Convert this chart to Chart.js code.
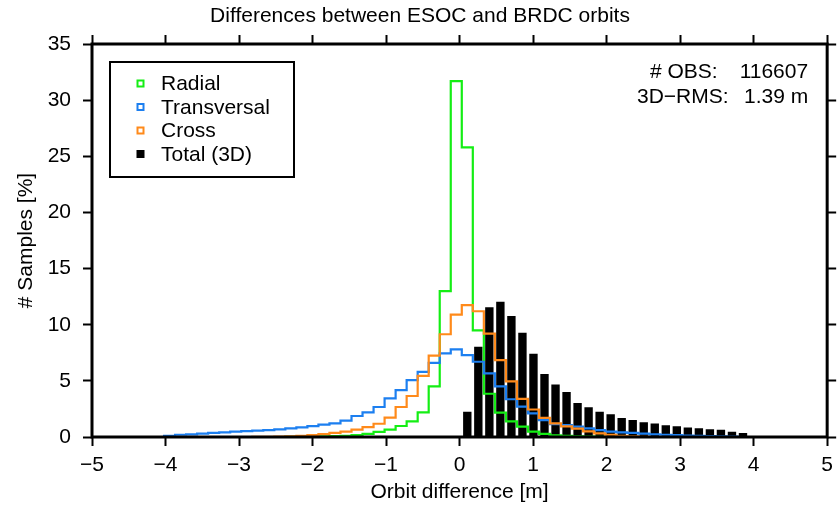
<!DOCTYPE html>
<html><head><meta charset="utf-8">
<script src="https://cdn.jsdelivr.net/npm/chart.js@4/dist/chart.umd.min.js"></script>
<style>html,body{margin:0;padding:0;background:#fff;} canvas{display:block;}</style>
</head><body>
<canvas id="c" width="840" height="505"></canvas>
<script>
const TITLE = 'Differences between ESOC and BRDC orbits';
const X_LABEL = 'Orbit difference [m]';
const Y_LABEL = '# Samples [%]';
const BIN_START = -4.02;   // left edge of first histogram bin [m]
const BIN_WIDTH = 0.15;    // histogram bin width [m]
const xTicks = [-5, -4, -3, -2, -1, 0, 1, 2, 3, 4, 5];
const yTicks = [0, 5, 10, 15, 20, 25, 30, 35];

const seriesNames = ['Radial', 'Transversal', 'Cross', 'Total (3D)'];
const seriesColors = ['#14ee14', '#1c7ff0', '#ff8a1a', '#000000'];

const radial = [0,0,0,0,0,0,0,0,0,0,0,
  0.01,0.02,0.03,0.05,0.07,0.1,0.17,0.28,0.45,0.65,0.98,1.4,2.2,4.5,13.0,31.7,
  25.8,9.5,3.85,2.17,1.4,0.92,0.47,0.27,0.15,0.1,0.06,0.03,0.02,
  0,0,0,0,0,0,0,0,0,0,0,0,0];
const transversal = [0.1,0.2,0.24,0.3,0.36,0.42,0.47,0.53,0.56,0.62,0.68,0.76,0.86,0.96,
  1.1,1.22,1.45,1.87,2.2,2.67,3.44,4.18,5.07,5.8,6.6,7.45,7.8,
  7.3,6.7,5.67,4.5,3.36,2.7,2.1,1.51,1.15,1.07,0.92,0.77,0.62,0.47,0.42,0.36,0.3,0.24,
  0.2,0.16,0.13,0.1,0.07,0.05,0.03,0];
const cross = [0,0,0,0,0,0,0,0,
  0.01,0.02,0.04,0.06,0.1,0.16,0.25,0.36,0.47,0.65,0.88,1.18,1.72,2.67,3.65,5.45,7.25,9.15,10.9,
  11.75,11.2,9.2,6.85,4.95,3.4,2.45,1.7,1.22,0.95,0.75,0.5,0.33,0.2,0.1,0.05,0.02,
  0,0,0,0,0,0,0,0,0];
const total3D = [null,null,null,null,null,null,null,null,null,null,null,null,null,null,
  null,null,null,null,null,null,null,null,null,null,null,null,null,
  2.25,8.04,11.55,12.05,10.77,9.29,7.42,5.61,4.67,4.0,3.03,2.64,2.25,2.03,1.7,1.51,1.32,
  1.2,1.05,0.96,0.85,0.79,0.68,0.64,0.47,0.35];

const statLabels = ['# OBS:', '3D\u2212RMS:'];
const statValues = ['116607', '1.39 m'];

const binEdges = Array.from({length: radial.length + 1}, (_, i) => +(BIN_START + i * BIN_WIDTH).toFixed(3));

function stepPoints(vals) {
  const pts = [{x: binEdges[0], y: 0}];
  vals.forEach((v, i) => pts.push({x: binEdges[i], y: v}));
  const n = vals.length;
  pts.push({x: binEdges[n], y: vals[n - 1]});
  pts.push({x: binEdges[n], y: 0});
  return pts;
}
const barPoints = total3D.map((v, i) => ({x: (binEdges[i] + binEdges[i + 1]) / 2, y: v}));

Chart.defaults.font.family = '"Liberation Sans", Arial, Helvetica, sans-serif';
Chart.defaults.color = '#000';

const FONT = 21;

const lineDs = (label, vals, color, order) => ({
  type: 'line', label, data: stepPoints(vals), borderColor: color, backgroundColor: color,
  borderWidth: 2.2, stepped: true, pointRadius: 0, fill: false, tension: 0, order,
  borderJoinStyle: 'miter'
});

const framePlugin = {
  id: 'frame',
  afterDatasetsDraw(chart) {
    const {ctx, chartArea: a} = chart;
    ctx.save();
    ctx.lineWidth = 3;
    ctx.strokeStyle = '#000';
    ctx.strokeRect(a.left, a.top, a.right - a.left, a.bottom - a.top);
    ctx.restore();
  }
};

const legendPlugin = {
  id: 'boxLegend',
  afterDraw(chart) {
    const {ctx, chartArea: a} = chart;
    const bx = a.left + 18, by = a.top + 18, bw = 184, bh = 115;
    ctx.save();
    ctx.fillStyle = '#fff';
    ctx.fillRect(bx, by, bw, bh);
    ctx.lineWidth = 2;
    ctx.strokeStyle = '#000';
    ctx.strokeRect(bx, by, bw, bh);
    ctx.font = FONT + 'px "Liberation Sans", Arial, sans-serif';
    ctx.textBaseline = 'middle';
    ctx.textAlign = 'left';
    chart.data.datasets.forEach((ds, i) => {
      const y = by + 21.5 + i * 23.5;
      const mx = bx + 27.5, s = 6;
      if (ds.type === 'line') {
        ctx.lineWidth = 2;
        ctx.strokeStyle = ds.borderColor;
        ctx.fillStyle = '#fff';
        ctx.fillRect(mx, y - s / 2, s, s);
        ctx.strokeRect(mx, y - s / 2, s, s);
      } else {
        ctx.fillStyle = ds.backgroundColor;
        ctx.fillRect(mx - 1, y - s / 2 - 1, s + 2, s + 2);
      }
      ctx.fillStyle = '#000';
      ctx.fillText(ds.label, bx + 51, y + 1);
    });
    ctx.restore();
  }
};

const statsPlugin = {
  id: 'stats',
  afterDraw(chart) {
    const {ctx, chartArea: a} = chart;
    ctx.save();
    ctx.font = FONT + 'px "Liberation Sans", Arial, sans-serif';
    ctx.fillStyle = '#000';
    ctx.textBaseline = 'middle';
    const labelX = [a.left + 558, a.left + 545];
    statLabels.forEach((t, i) => {
      const y = a.top + 28 + i * 25;
      ctx.textAlign = 'left';
      ctx.fillText(t, labelX[i], y);
      ctx.textAlign = 'right';
      ctx.fillText(statValues[i], a.right - 19, y);
    });
    ctx.restore();
  }
};

const tickFont = {size: FONT};
const minusFmt = v => String(v).replace('-', '\u2212');

new Chart(document.getElementById('c'), {
  type: 'bar',
  data: {
    datasets: [
      lineDs(seriesNames[0], radial, seriesColors[0], 3),
      lineDs(seriesNames[1], transversal, seriesColors[1], 2),
      lineDs(seriesNames[2], cross, seriesColors[2], 1),
      {type: 'bar', label: seriesNames[3], data: barPoints, backgroundColor: seriesColors[3],
       borderWidth: 0, barPercentage: 0.76, categoryPercentage: 1.0, order: 10}
    ]
  },
  options: {
    responsive: false,
    animation: false,
    events: [],
    layout: {padding: {left: 0, right: 0, top: 0, bottom: 0}},
    plugins: {
      legend: {display: false},
      tooltip: {enabled: false},
      title: {display: true, text: TITLE, color: '#000', font: {size: FONT, weight: 'normal', lineHeight: 1.2},
              padding: {top: 4, bottom: 3}}
    },
    scales: {
      x: {
        type: 'linear', position: 'bottom', min: xTicks[0], max: xTicks[xTicks.length - 1], offset: false,
        afterBuildTicks: s => { s.ticks = xTicks.map(v => ({value: v})); },
        ticks: {autoSkip: false, maxRotation: 0, padding: 7, color: '#000', font: tickFont, callback: minusFmt},
        grid: {display: true, drawOnChartArea: false, drawTicks: true, tickLength: 9, tickWidth: 2, tickColor: '#000', offset: false},
        border: {display: false},
        title: {display: true, text: X_LABEL, color: '#000', font: {size: FONT, lineHeight: 1.2}, padding: {top: 0, bottom: 0}},
        afterFit: s => { s.height = 68; }
      },
      xTop: {
        type: 'linear', position: 'top', min: xTicks[0], max: xTicks[xTicks.length - 1], offset: false,
        afterBuildTicks: s => { s.ticks = xTicks.map(v => ({value: v})); },
        ticks: {display: false},
        grid: {display: true, drawOnChartArea: false, drawTicks: true, tickLength: 9, tickWidth: 2, tickColor: '#000', offset: false},
        border: {display: false},
        afterFit: s => { s.height = 11.8; }
      },
      y: {
        type: 'linear', position: 'left', min: yTicks[0], max: yTicks[yTicks.length - 1],
        afterBuildTicks: s => { s.ticks = yTicks.map(v => ({value: v})); },
        ticks: {padding: 12, color: '#000', font: tickFont},
        grid: {display: true, drawOnChartArea: false, drawTicks: true, tickLength: 9, tickWidth: 2, tickColor: '#000'},
        border: {display: false},
        title: {display: true, text: Y_LABEL, color: '#000', font: {size: FONT, lineHeight: 1.2}, padding: {top: 14, bottom: 0}},
        afterFit: s => { s.width = 92; }
      },
      yRight: {
        type: 'linear', position: 'right', min: yTicks[0], max: yTicks[yTicks.length - 1],
        afterBuildTicks: s => { s.ticks = yTicks.map(v => ({value: v})); },
        ticks: {display: false},
        grid: {display: true, drawOnChartArea: false, drawTicks: true, tickLength: 9, tickWidth: 2, tickColor: '#000'},
        border: {display: false},
        afterFit: s => { s.width = 11; }
      }
    }
  },
  plugins: [framePlugin, legendPlugin, statsPlugin]
});
</script>
</body></html>
